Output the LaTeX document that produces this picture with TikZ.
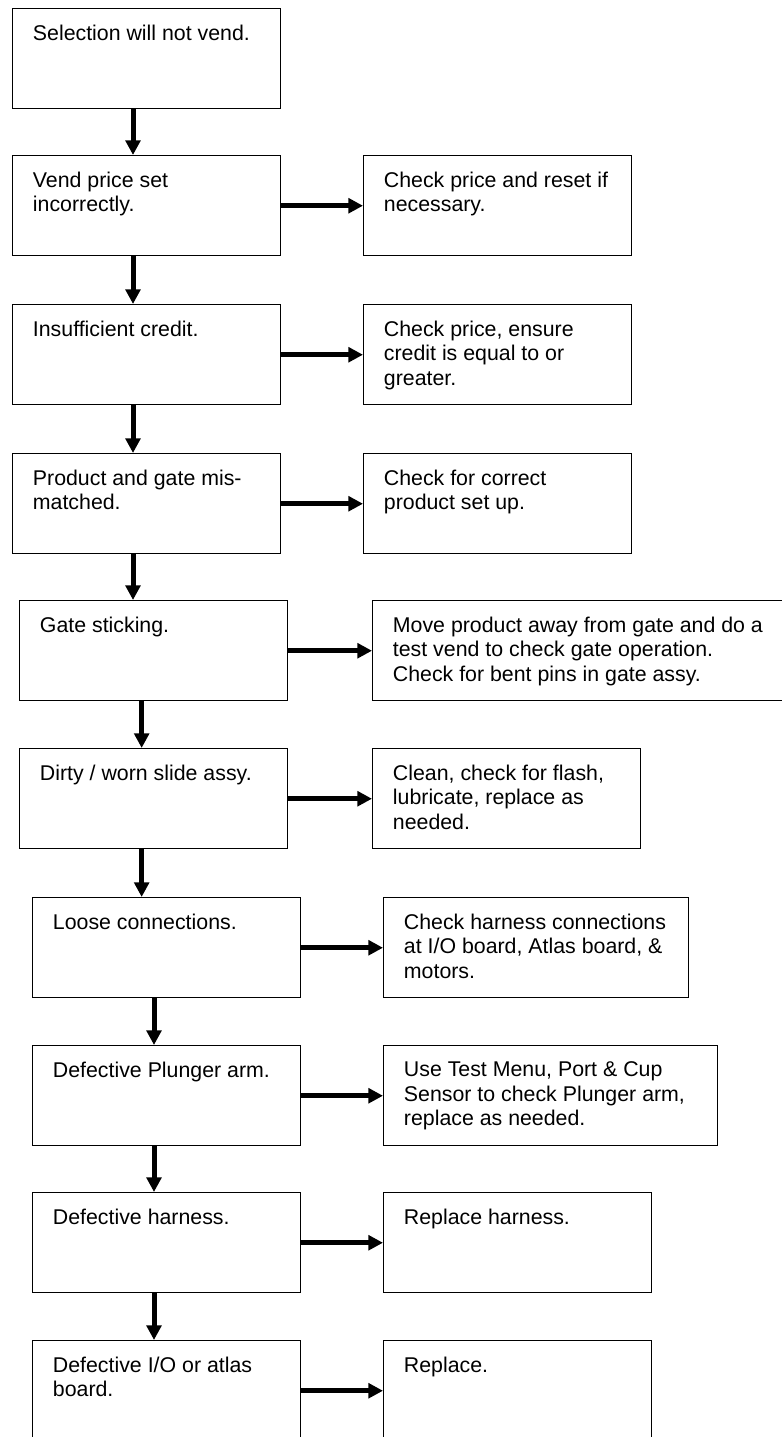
\documentclass[tikz,border=0pt]{standalone}
\usepackage{fontspec}
\setmainfont{Liberation Sans}
\usetikzlibrary{arrows.meta}

\tikzset{
  box/.style={draw, line width=1.1pt, anchor=north west, inner sep=0pt,
    minimum height=75pt, minimum width=201pt},
  tag/.style={anchor=north west, align=left, inner sep=0pt,
    xshift=15.5pt, yshift=-12.3pt, font=\fontsize{16}{18.4}\selectfont},
  flow/.style={line width=3.75pt, -{Triangle[length=11pt,width=11pt]}}
}

\begin{document}
\begin{tikzpicture}[x=0.75pt, y=-0.75pt]
  \useasboundingbox (0,0) rectangle (781,1437);

  % causes
  \node[box, label={[tag]north west:Selection will not vend.}] (b1) at (12,8) {};
  \node[box, label={[tag]north west:{Vend price set\\incorrectly.}}] (b2) at (12,155) {};
  \node[box, label={[tag]north west:Insufficient credit.}] (b3) at (12,304) {};
  \node[box, label={[tag]north west:{Product and gate mis-\\matched.}}] (b4) at (12,453) {};
  \node[box, label={[tag]north west:Gate sticking.}] (b5) at (19,600) {};
  \node[box, label={[tag]north west:Dirty / worn slide assy.}] (b6) at (19,748) {};
  \node[box, label={[tag]north west:Loose connections.}] (b7) at (32,897) {};
  \node[box, label={[tag]north west:Defective Plunger arm.}] (b8) at (32,1045) {};
  \node[box, label={[tag]north west:Defective harness.}] (b9) at (32,1192) {};
  \node[box, label={[tag]north west:{Defective I/O or atlas\\board.}}] (b10) at (32,1340) {};

  % remedies
  \node[box, label={[tag]north west:{Check price and reset if\\necessary.}}] (r2) at (363,155) {};
  \node[box, label={[tag]north west:{Check price, ensure\\credit is equal to or\\greater.}}] (r3) at (363,304) {};
  \node[box, label={[tag]north west:{Check for correct\\product set up.}}] (r4) at (363,453) {};
  \node[box, minimum width=309pt, label={[tag]north west:{Move product away from gate and do a\\test vend to check gate operation.\\Check for bent pins in gate assy.}}] (r5) at (372,600) {};
  \node[box, label={[tag]north west:{Clean, check for flash,\\lubricate, replace as\\needed.}}] (r6) at (372,748) {};
  \node[box, minimum width=228.75pt, label={[tag]north west:{Check harness connections\\at I/O board, Atlas board, \&\\motors.}}] (r7) at (383,897) {};
  \node[box, minimum width=250.5pt, label={[tag]north west:{Use Test Menu, Port \& Cup\\Sensor to check Plunger arm,\\replace as needed.}}] (r8) at (383,1045) {};
  \node[box, label={[tag]north west:Replace harness.}] (r9) at (383,1192) {};
  \node[box, label={[tag]north west:Replace.}] (r10) at (383,1340) {};

  % down the column
  \draw[flow] ([xshift=90.75pt]b1.south west) -- ([xshift=90.75pt]b1.south west |- b2.north);
  \draw[flow] ([xshift=90.75pt]b2.south west) -- ([xshift=90.75pt]b2.south west |- b3.north);
  \draw[flow] ([xshift=90.75pt]b3.south west) -- ([xshift=90.75pt]b3.south west |- b4.north);
  \draw[flow] ([xshift=90.75pt]b4.south west) -- ([xshift=90.75pt]b4.south west |- b5.north);
  \draw[flow] ([xshift=92pt]b5.south west) -- ([xshift=92pt]b5.south west |- b6.north);
  \draw[flow] ([xshift=92pt]b6.south west) -- ([xshift=92pt]b6.south west |- b7.north);
  \draw[flow] ([xshift=91.5pt]b7.south west) -- ([xshift=91.5pt]b7.south west |- b8.north);
  \draw[flow] ([xshift=91.5pt]b8.south west) -- ([xshift=91.5pt]b8.south west |- b9.north);
  \draw[flow] ([xshift=91.5pt]b9.south west) -- ([xshift=91.5pt]b9.south west |- b10.north);

  % across to the remedy
  \draw[flow] (b2.east) -- (b2.east -| r2.west);
  \draw[flow] (b3.east) -- (b3.east -| r3.west);
  \draw[flow] (b4.east) -- (b4.east -| r4.west);
  \draw[flow] (b5.east) -- (b5.east -| r5.west);
  \draw[flow] (b6.east) -- (b6.east -| r6.west);
  \draw[flow] (b7.east) -- (b7.east -| r7.west);
  \draw[flow] (b8.east) -- (b8.east -| r8.west);
  \draw[flow] (b9.east) -- (b9.east -| r9.west);
  \draw[flow] (b10.east) -- (b10.east -| r10.west);
\end{tikzpicture}
\end{document}
